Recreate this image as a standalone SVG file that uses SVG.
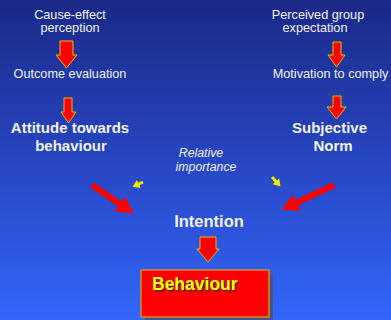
<svg xmlns="http://www.w3.org/2000/svg" width="391" height="320" viewBox="0 0 391 320">
<defs>
<linearGradient id="bg" x1="0" y1="0" x2="0" y2="1">
<stop offset="0" stop-color="#1b2987"/>
<stop offset="0.5" stop-color="#2746c2"/>
<stop offset="1" stop-color="#3366fb"/>
</linearGradient>
<marker id="redHead" markerUnits="userSpaceOnUse" markerWidth="18" markerHeight="20" viewBox="0 0 18 20" refX="1" refY="10" orient="auto">
<path d="M0,1 L17,10 L0,19 Z" fill="#ff0000"/>
</marker>
<marker id="yelHead" markerUnits="userSpaceOnUse" markerWidth="8" markerHeight="10" viewBox="0 0 8 10" refX="1" refY="5" orient="auto">
<path d="M0,0.5 L7,5 L0,9.5 Z" fill="#e8e800"/>
</marker>
<filter id="tshadow" x="-10%" y="-20%" width="130%" height="150%">
<feDropShadow dx="1.5" dy="1.5" stdDeviation="0.6" flood-color="#3a2a10" flood-opacity="0.9"/>
</filter>
<style>
.t{font-family:"Liberation Sans",Arial,sans-serif;fill:#f2f2f2;text-anchor:middle}
.s{font-size:12.7px}
.b{font-size:15px;font-weight:bold}
.i{font-size:12.3px;font-style:italic}
.block{fill:#ff0000;stroke:#e2be00;stroke-width:1;stroke-linejoin:miter}
.red{stroke:#ff0000;stroke-width:6;fill:none}
.yel{stroke:#e8e800;stroke-width:3;fill:none}
</style>
</defs>
<rect x="0" y="0" width="391" height="320" fill="url(#bg)"/>

<g id="connectors">
<path class="block" d="M60,41 H73 V55 H77 L66.5,68 L56,55 H60 Z"/>
<path class="block" d="M64,98 H72 V112 H76 L68.5,123 L61,112 H64 Z"/>
<path class="block" d="M333,42 H341 V55 H345 L336.5,67 L328,55 H333 Z"/>
<path class="block" d="M333,96 H341 V107 H346 L336.5,119 L327,107 H333 Z"/>
<path class="block" d="M200,237 H216 V249 H219 L208,262 L197,249 H200 Z"/>
<line class="red" x1="92" y1="185" x2="120.5" y2="204.5" marker-end="url(#redHead)"/>
<line class="red" x1="334" y1="185" x2="296" y2="203" marker-end="url(#redHead)"/>
<line class="yel" x1="143" y1="182" x2="138" y2="184.3" marker-end="url(#yelHead)"/>
<line class="yel" x1="272" y1="177" x2="276.5" y2="182" marker-end="url(#yelHead)"/>
</g>

<g id="cause-effect">
<text class="t s" x="70" y="19">Cause-effect</text>
<text class="t s" x="70" y="32">perception</text>
</g>
<g id="outcome-evaluation">
<text class="t s" x="70" y="78">Outcome evaluation</text>
</g>
<g id="attitude">
<text class="t b" x="70" y="133">Attitude towards</text>
<text class="t b" x="71" y="151">behaviour</text>
</g>
<g id="perceived-group">
<text class="t s" x="318" y="19">Perceived group</text>
<text class="t s" x="315" y="32">expectation</text>
</g>
<g id="motivation">
<text class="t s" x="330.5" y="78">Motivation to comply</text>
</g>
<g id="subjective-norm">
<text class="t b" x="329.5" y="133">Subjective</text>
<text class="t b" x="333" y="151">Norm</text>
</g>
<g id="relative-importance">
<text class="t i" x="201" y="156.5">Relative</text>
<text class="t i" x="206" y="170.5">importance</text>
</g>
<g id="intention">
<text class="t b" x="209" y="227" style="font-size:16.5px">Intention</text>
</g>
<g id="behaviour">
<rect x="145" y="274" width="128" height="47" fill="#4a5288"/>
<rect x="141" y="270" width="128" height="47" fill="#ff0000" stroke="#d8aa10" stroke-width="1.2"/>
<text x="152" y="290" font-family="Liberation Sans, Arial, sans-serif" font-size="17.5" font-weight="bold" fill="#ffff00" filter="url(#tshadow)">Behaviour</text>
</g>
</svg>
